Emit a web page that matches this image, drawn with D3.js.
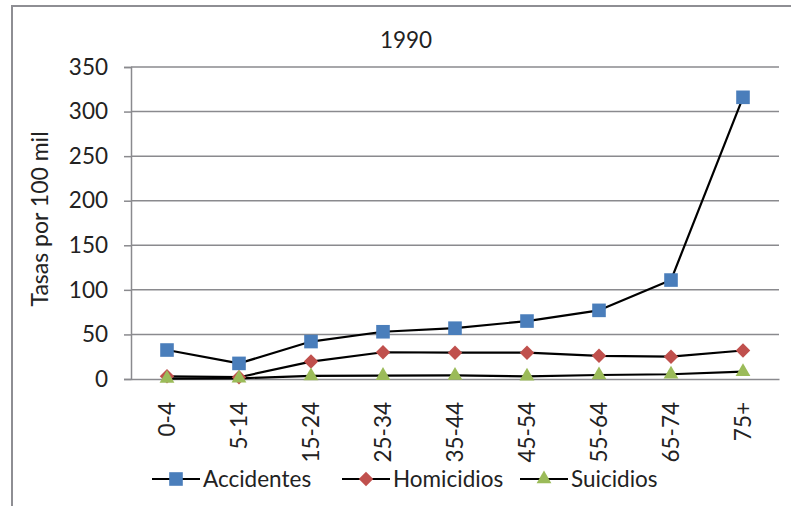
<!DOCTYPE html>
<html>
<head>
<meta charset="utf-8">
<script src="https://cdn.jsdelivr.net/npm/d3@7"></script>
<style>
  html, body { margin: 0; padding: 0; background: #fff; }
  svg { display: block; font-family: "Lato", "Liberation Sans", sans-serif; }
</style>
</head>
<body>
<svg id="chart" width="791" height="506"></svg>
<script>
// Age groups and rates per 100,000 inhabitants, 1990
const categories = ["0-4", "5-14", "15-24", "25-34", "35-44", "45-54", "55-64", "65-74", "75+"];
const accidentes = [32.5, 17.5, 42, 53, 57, 65, 77, 111, 316];
const homicidios = [3, 2, 19.5, 30, 29.5, 29.5, 26, 25, 32];
const suicidios  = [0.5, 0.8, 3.4, 3.8, 4, 3, 4.5, 5.3, 8.2];
const yTicks = [0, 50, 100, 150, 200, 250, 300, 350];
const seriesNames = ["Accidentes", "Homicidios", "Suicidios"];

// marker shapes: square, diamond (square turned 45°), triangle
const markers = {
  square:   { d: d3.symbol().type(d3.symbolSquare).size(185)(), rot: 0 },
  diamond:  { d: d3.symbol().type(d3.symbolSquare).size(105)(), rot: 45 },
  triangle: { d: d3.symbol().type(d3.symbolTriangle).size(95)(), rot: 0 }
};

const series = [
  { name: seriesNames[0], values: accidentes, color: "#4a7ebb", marker: markers.square },
  { name: seriesNames[1], values: homicidios, color: "#c0504d", marker: markers.diamond },
  { name: seriesNames[2], values: suicidios,  color: "#9bbb59", marker: markers.triangle }
];

const svg = d3.select("#chart");
const plot = { left: 131, right: 779, top: 67, bottom: 379 };
const gridColor = "#8a8a8e";
const textColor = "#222";
const fontSize = 22.5;

// chart frame
svg.append("line").attr("x1", 12).attr("x2", 791).attr("y1", 6).attr("y2", 6)
  .attr("stroke", "#8e8e93").attr("stroke-width", 2);
svg.append("line").attr("x1", 12).attr("x2", 12).attr("y1", 5).attr("y2", 506)
  .attr("stroke", "#8e8e93").attr("stroke-width", 2);

const x = d3.scaleBand().domain(categories).range([plot.left, plot.right]);
const y = d3.scaleLinear().domain([0, 350]).range([plot.bottom, plot.top]);

// horizontal gridlines
svg.append("g").selectAll("line").data(yTicks.slice(1)).join("line")
  .attr("x1", plot.left).attr("x2", plot.right)
  .attr("y1", d => y(d)).attr("y2", d => y(d))
  .attr("stroke", gridColor).attr("stroke-width", 1.5);

// y axis
const yAxis = svg.append("g")
  .attr("transform", `translate(${plot.left},0)`)
  .call(d3.axisLeft(y).tickValues(yTicks).tickSize(7).tickPadding(16));
yAxis.select(".domain").attr("stroke", gridColor).attr("stroke-width", 1.5);
yAxis.selectAll(".tick line").attr("stroke", gridColor).attr("stroke-width", 1.5);
yAxis.selectAll(".tick text").attr("font-size", fontSize).attr("fill", textColor)
  .attr("font-family", "Lato, sans-serif");

// x axis with rotated category labels
const xAxis = svg.append("g")
  .attr("transform", `translate(0,${plot.bottom})`)
  .call(d3.axisBottom(x).tickSize(0).tickPadding(0));
xAxis.select(".domain").attr("stroke", gridColor).attr("stroke-width", 1.5);
xAxis.selectAll(".tick text")
  .attr("font-size", fontSize).attr("fill", textColor).attr("font-family", "Lato, sans-serif")
  .attr("text-anchor", "end")
  .attr("transform", "rotate(-90)")
  .attr("x", -23).attr("y", 0).attr("dy", "0.35em");

// y axis title
svg.append("text")
  .attr("transform", "translate(40,219) rotate(-90)")
  .attr("text-anchor", "middle").attr("dy", "0.35em")
  .attr("font-size", 23).attr("fill", textColor)
  .text("Tasas por 100 mil");

// chart title
svg.append("text")
  .attr("x", 406).attr("y", 48)
  .attr("text-anchor", "middle")
  .attr("font-size", fontSize).attr("fill", textColor)
  .text("1990");

const cx = d => x(d) + x.bandwidth() / 2;
const line = d3.line().x(d => cx(d.cat)).y(d => y(d.v));

series.forEach(s => {
  const pts = categories.map((c, i) => ({ cat: c, v: s.values[i] }));
  svg.append("path").datum(pts)
    .attr("fill", "none").attr("stroke", "#000").attr("stroke-width", 2.2)
    .attr("stroke-linejoin", "round")
    .attr("d", line);
});

series.forEach(s => {
  const pts = categories.map((c, i) => ({ cat: c, v: s.values[i] }));
  svg.append("g").selectAll("path").data(pts).join("path")
    .attr("transform", d => `translate(${cx(d.cat)},${y(d.v)}) rotate(${s.marker.rot})`)
    .attr("d", s.marker.d)
    .attr("fill", s.color);
});

// legend
const legendX = [152, 342, 520];
const legendY = 479;
series.forEach((s, i) => {
  const g = svg.append("g").attr("transform", `translate(${legendX[i]},${legendY})`);
  g.append("line").attr("x1", 0).attr("x2", 48).attr("y1", 0).attr("y2", 0)
    .attr("stroke", "#000").attr("stroke-width", 2.2);
  g.append("path").attr("transform", `translate(24,0) rotate(${s.marker.rot})`)
    .attr("d", s.marker.d).attr("fill", s.color);
  g.append("text").attr("x", 51).attr("y", 0).attr("dy", "0.35em")
    .attr("font-size", fontSize).attr("fill", textColor).text(s.name);
});
</script>
</body>
</html>
